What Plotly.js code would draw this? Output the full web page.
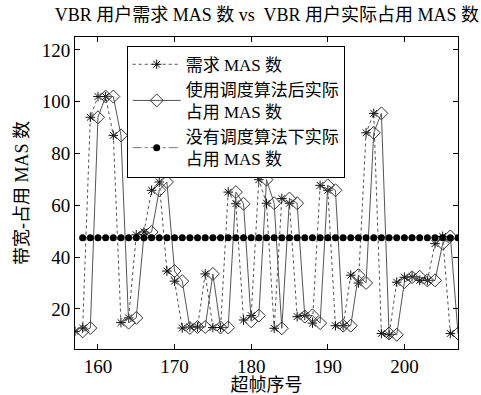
<!DOCTYPE html>
<html>
<head>
<meta charset="utf-8">
<script src="https://cdn.plot.ly/plotly-3.0.1.min.js"></script>
<style>html,body{margin:0;padding:0;background:#fff;}#chart{width:481px;height:395px;}</style>
</head>
<body>
<div id="chart"></div>
<script>
// Demand MAS per superframe (frames 157..206)
const demandFrames = [157,158,159,160,161,162,163,164,165,166,167,168,169,170,171,172,173,174,175,176,177,178,179,180,181,182,183,184,185,186,187,188,189,190,191,192,193,194,195,196,197,198,199,200,201,202,203,204,205,206];
const demandMAS = [11.3,12.6,94,102,102,87,14.7,16.5,48.6,49.7,65.8,69,34.6,30.7,12.6,13,13,33.5,12.8,12.8,65.1,60.6,15.7,17.4,69.9,60.8,12.5,62.6,60.8,17,17.5,14.5,67.7,65.8,13.5,13.5,33,30,88,95.5,10.5,10,30.3,32.2,32.4,31,31,45.2,48,10.5];
// Actual MAS with scheduling (frames 158..207)
const actualFrames = [158,159,160,161,162,163,164,165,166,167,168,169,170,171,172,173,174,175,176,177,178,179,180,181,182,183,184,185,186,187,188,189,190,191,192,193,194,195,196,197,198,199,200,201,202,203,204,205,206,207];
const actualMAS = [11.3,12.6,94,102,102,87,14.7,16.5,48.6,49.7,65.8,69,34.6,30.7,12.6,13,13,33.5,12.8,12.8,65.1,60.6,15.2,17.4,69.9,60.8,12.5,62.6,60.8,17,17.5,14.5,67.7,65.8,13.5,13.5,33,30,88,95.5,10.5,10,30.3,32.2,32.4,31,31,45.2,48,10.5];
// Actual MAS without scheduling (frames 158..207)
const noSchedFrames = actualFrames;
const noSchedMAS = actualFrames.map(() => 47.5);

const xTicks = [160,170,180,190,200];
const yTicks = [20,40,60,80,100,120];

const FONT = '"Liberation Serif", "Times New Roman", "Noto Sans CJK SC", serif';

const traces = [
  {
    x: demandFrames, y: demandMAS, type: 'scatter', mode: 'lines+markers',
    name: '需求 MAS 数',
    line: {color: '#222', width: 0.8, dash: 'dot'},
    marker: {symbol: 'asterisk-open', size: 8, color: '#111', line: {color: '#111', width: 1}}
  },
  {
    x: actualFrames, y: actualMAS, type: 'scatter', mode: 'lines+markers',
    name: '使用调度算法后实际<br>占用 MAS 数',
    line: {color: '#555', width: 1},
    marker: {symbol: 'diamond-open', size: 10, color: '#333', line: {color: '#333', width: 1}}
  },
  {
    x: noSchedFrames, y: noSchedMAS, type: 'scatter', mode: 'lines+markers',
    name: '没有调度算法下实际<br>占用 MAS 数',
    line: {color: '#777', width: 1, dash: 'dashdot'},
    marker: {symbol: 'circle', size: 7, color: '#000'}
  }
];

const axisCommon = {
  showgrid: false, zeroline: false, showline: true, linecolor: '#000', linewidth: 1,
  mirror: 'ticks', ticks: 'inside', ticklen: 5, tickcolor: '#000',
  tickfont: {family: FONT, size: 19, color: '#000'}
};

const layout = {
  width: 481, height: 395,
  margin: {l: 75, r: 23, t: 37, b: 46},
  paper_bgcolor: '#fff', plot_bgcolor: '#fff',
  showlegend: true,
  title: {text: 'VBR 用户需求 MAS 数 vs  VBR 用户实际占用 MAS 数', font: {family: FONT, size: 18, color: '#000'}, x: 0.555, xanchor: 'center', y: 0.978, yanchor: 'top'},
  xaxis: Object.assign({}, axisCommon, {range: [157, 207], tickvals: xTicks, ticktext: xTicks.map(String),
    title: {text: '超帧序号', font: {family: FONT, size: 18, color: '#000'}, standoff: 9}}),
  yaxis: Object.assign({}, axisCommon, {range: [4.5, 125], tickvals: yTicks, ticktext: yTicks.map(String),
    title: {text: '带宽-占用 MAS 数', font: {family: FONT, size: 18, color: '#000'}, standoff: 8}}),
  legend: {x: 0.135, y: 0.972, xanchor: 'left', yanchor: 'top', bgcolor: '#fff', bordercolor: '#000', borderwidth: 1,
    font: {family: FONT, size: 17, color: '#000'}, itemwidth: 48, tracegroupgap: 0}
};

Plotly.newPlot('chart', traces, layout, {staticPlot: true, displayModeBar: false});
</script>
</body>
</html>
